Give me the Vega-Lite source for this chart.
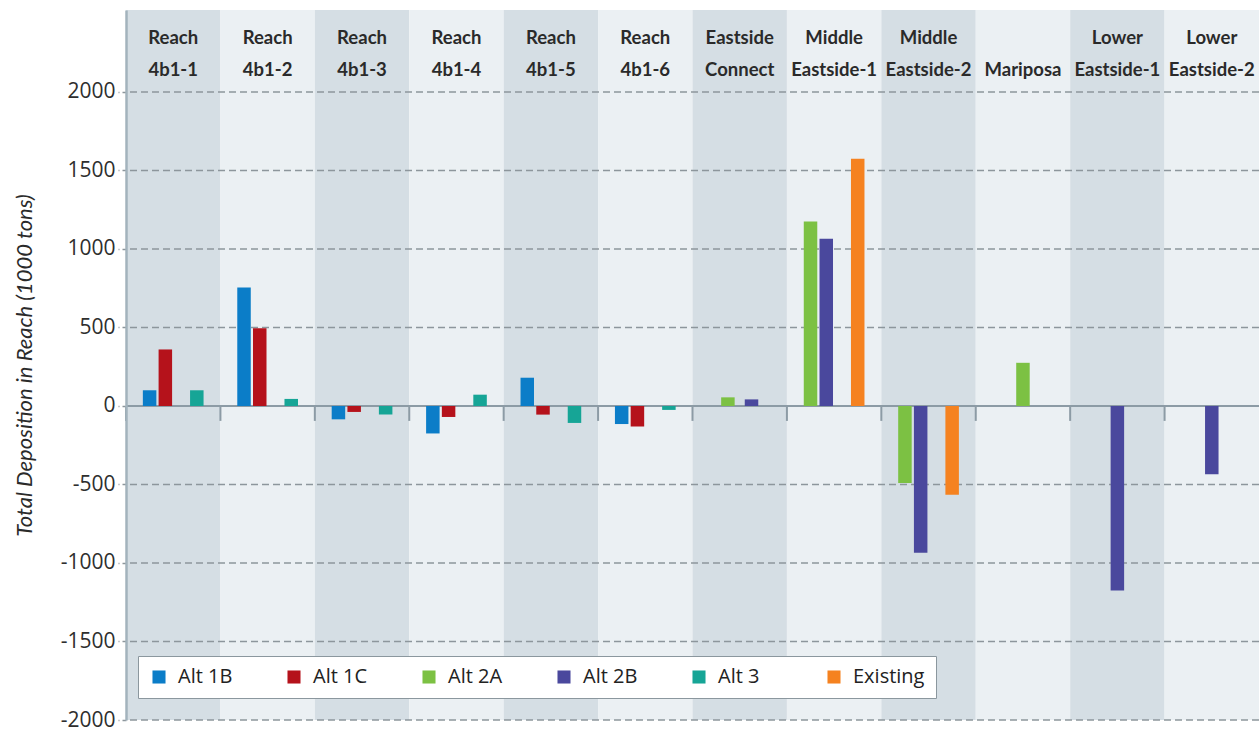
{
  "$schema": "https://vega.github.io/schema/vega-lite/v6.json",
  "width": 1133,
  "height": 710,
  "autosize": "none",
  "padding": {"left": 126, "top": 10, "right": 0, "bottom": 18},
  "background": "white",
  "view": {"stroke": null},
  "config": {
    "axisX": {
      "title": null, "ticks": false, "tickSize": 0, "domain": false, "grid": false,
      "labelPadding": 0, "offset": -18, "labelBaseline": "top", "labelLineHeight": 32,
      "labelFont": "Lato",
      "labelFontWeight": "bold", "labelFontSize": 18.5, "labelColor": "#2a2a2a",
      "labelOverlap": false, "labelBound": false, "labelFlush": false, "labelLimit": 200, "labelAngle": 0, "zindex": 1
    },
    "axisY": {
      "grid": false, "zindex": 1,
      "domainColor": "#a3b3bd", "domainWidth": 2.5,
      "tickSize": 8, "tickDash": [4, 3], "tickColor": "#8d969c", "tickWidth": 1.5,
      "labelPadding": 3, "labelFont": "Open Sans", "labelFontSize": 21, "labelColor": "#2e2e2e",
      "titleFont": "Lato",
      "titleFontStyle": "italic", "titleFontWeight": "normal", "titleFontSize": 22,
      "titleColor": "#2a2a2a", "titlePadding": 24
    }
  },
  "datasets": {
    "bars": [
      {"cat": "Reach 4b1-1", "series": "Alt 1B", "value": 100},
      {"cat": "Reach 4b1-1", "series": "Alt 1C", "value": 360},
      {"cat": "Reach 4b1-1", "series": "Alt 3", "value": 100},
      {"cat": "Reach 4b1-2", "series": "Alt 1B", "value": 755},
      {"cat": "Reach 4b1-2", "series": "Alt 1C", "value": 495},
      {"cat": "Reach 4b1-2", "series": "Alt 3", "value": 45},
      {"cat": "Reach 4b1-3", "series": "Alt 1B", "value": -85},
      {"cat": "Reach 4b1-3", "series": "Alt 1C", "value": -38},
      {"cat": "Reach 4b1-3", "series": "Alt 3", "value": -55},
      {"cat": "Reach 4b1-4", "series": "Alt 1B", "value": -175},
      {"cat": "Reach 4b1-4", "series": "Alt 1C", "value": -70},
      {"cat": "Reach 4b1-4", "series": "Alt 3", "value": 72},
      {"cat": "Reach 4b1-5", "series": "Alt 1B", "value": 180},
      {"cat": "Reach 4b1-5", "series": "Alt 1C", "value": -55},
      {"cat": "Reach 4b1-5", "series": "Alt 3", "value": -108},
      {"cat": "Reach 4b1-6", "series": "Alt 1B", "value": -115},
      {"cat": "Reach 4b1-6", "series": "Alt 1C", "value": -130},
      {"cat": "Reach 4b1-6", "series": "Alt 3", "value": -25},
      {"cat": "Eastside Connect", "series": "Alt 2A", "value": 55},
      {"cat": "Eastside Connect", "series": "Alt 2B", "value": 42},
      {"cat": "Middle Eastside-1", "series": "Alt 2A", "value": 1175},
      {"cat": "Middle Eastside-1", "series": "Alt 2B", "value": 1065},
      {"cat": "Middle Eastside-1", "series": "Existing", "value": 1575},
      {"cat": "Middle Eastside-2", "series": "Alt 2A", "value": -490},
      {"cat": "Middle Eastside-2", "series": "Alt 2B", "value": -935},
      {"cat": "Middle Eastside-2", "series": "Existing", "value": -565},
      {"cat": "Mariposa", "series": "Alt 2A", "value": 275},
      {"cat": "Lower Eastside-1", "series": "Alt 2B", "value": -1175},
      {"cat": "Lower Eastside-2", "series": "Alt 2B", "value": -435}
    ],
    "cats": [
      {"cat": "Reach 4b1-1"}, {"cat": "Reach 4b1-2"}, {"cat": "Reach 4b1-3"},
      {"cat": "Reach 4b1-4"}, {"cat": "Reach 4b1-5"}, {"cat": "Reach 4b1-6"},
      {"cat": "Eastside Connect"}, {"cat": "Middle Eastside-1"}, {"cat": "Middle Eastside-2"},
      {"cat": "Mariposa"}, {"cat": "Lower Eastside-1"}, {"cat": "Lower Eastside-2"}
    ],
    "grid": [
      {"value": -2000}, {"value": -1500}, {"value": -1000}, {"value": -500},
      {"value": 500}, {"value": 1000}, {"value": 1500}, {"value": 2000}
    ]
  },
  "resolve": {"scale": {"xOffset": "independent"}},
  "layer": [
    {
      "data": {"name": "cats"},
      "mark": {"type": "rect"},
      "encoding": {
        "x": {
          "field": "cat", "type": "nominal",
          "scale": {"domain": ["Reach 4b1-1","Reach 4b1-2","Reach 4b1-3","Reach 4b1-4","Reach 4b1-5","Reach 4b1-6","Eastside Connect","Middle Eastside-1","Middle Eastside-2","Mariposa","Lower Eastside-1","Lower Eastside-2"], "paddingInner": 0, "paddingOuter": 0},
          "axis": {"orient": "top", "title": null, "zindex": 1, "labelExpr": "indexof(datum.label, ' ') > 0 ? split(datum.label, ' ') : ['', datum.label]"}
        },
        "fill": {
          "condition": {"test": {"field": "cat", "oneOf": ["Reach 4b1-1","Reach 4b1-3","Reach 4b1-5","Eastside Connect","Middle Eastside-2","Lower Eastside-1"]}, "value": "#d5dee4"},
          "value": "#ebf0f3"
        }
      }
    },
    {
      "data": {"name": "grid"},
      "mark": {"type": "rule", "stroke": "#8d969c", "strokeWidth": 1.5, "strokeDash": [7, 4]},
      "encoding": {
        "y": {
          "field": "value", "type": "quantitative",
          "scale": {"domain": [-2000, 2522], "nice": false, "zero": false},
          "axis": {"values": [-2000, -1500, -1000, -500, 0, 500, 1000, 1500, 2000], "zindex": 1, "labelExpr": "'' + datum.value", "title": "Total Deposition in Reach (1000 tons)"}
        }
      }
    },
    {
      "data": {"values": [{}]},
      "mark": {"type": "rule", "stroke": "#8c9ba5", "strokeWidth": 2},
      "encoding": {
        "y": {"datum": 0, "type": "quantitative", "scale": {"domain": [-2000, 2522], "nice": false, "zero": false},
          "axis": {"values": [-2000, -1500, -1000, -500, 0, 500, 1000, 1500, 2000], "zindex": 1, "labelExpr": "'' + datum.value", "title": "Total Deposition in Reach (1000 tons)"}}
      }
    },
    {
      "data": {"name": "cats"},
      "mark": {"type": "rule", "stroke": "#8c9ba5", "strokeWidth": 2},
      "encoding": {
        "x": {"field": "cat", "type": "nominal", "bandPosition": 0, "scale": {"domain": ["Reach 4b1-1","Reach 4b1-2","Reach 4b1-3","Reach 4b1-4","Reach 4b1-5","Reach 4b1-6","Eastside Connect","Middle Eastside-1","Middle Eastside-2","Mariposa","Lower Eastside-1","Lower Eastside-2"], "paddingInner": 0, "paddingOuter": 0},
          "axis": {"orient": "top", "title": null, "zindex": 1, "labelExpr": "indexof(datum.label, ' ') > 0 ? split(datum.label, ' ') : ['', datum.label]"}},
        "y": {"datum": 0, "type": "quantitative", "scale": {"domain": [-2000, 2522], "nice": false, "zero": false},
          "axis": {"values": [-2000, -1500, -1000, -500, 0, 500, 1000, 1500, 2000], "zindex": 1, "labelExpr": "'' + datum.value", "title": "Total Deposition in Reach (1000 tons)"}},
        "y2": {"datum": -95}
      }
    },
    {
      "data": {"name": "bars"},
      "transform": [{"filter": {"field": "cat", "oneOf": ["Reach 4b1-1","Reach 4b1-2","Reach 4b1-3","Reach 4b1-4","Reach 4b1-5","Reach 4b1-6"]}}],
      "mark": {"type": "bar", "width": 13.5},
      "encoding": {
        "x": {"field": "cat", "type": "nominal", "scale": {"domain": ["Reach 4b1-1","Reach 4b1-2","Reach 4b1-3","Reach 4b1-4","Reach 4b1-5","Reach 4b1-6","Eastside Connect","Middle Eastside-1","Middle Eastside-2","Mariposa","Lower Eastside-1","Lower Eastside-2"], "paddingInner": 0, "paddingOuter": 0},
          "axis": {"orient": "top", "title": null, "zindex": 1, "labelExpr": "indexof(datum.label, ' ') > 0 ? split(datum.label, ' ') : ['', datum.label]"}},
        "xOffset": {"field": "series", "type": "nominal", "scale": {"domain": ["Alt 1B", "Alt 1C", "gap", "Alt 3"], "paddingInner": 0, "paddingOuter": 1.05}},
        "y": {"field": "value", "type": "quantitative", "scale": {"domain": [-2000, 2522], "nice": false, "zero": false},
          "axis": {"values": [-2000, -1500, -1000, -500, 0, 500, 1000, 1500, 2000], "zindex": 1, "labelExpr": "'' + datum.value", "title": "Total Deposition in Reach (1000 tons)"}},
        "color": {
          "field": "series", "type": "nominal",
          "scale": {"domain": ["Alt 1B", "Alt 1C", "Alt 2A", "Alt 2B", "Alt 3", "Existing"], "range": ["#0b7dc8", "#b5121b", "#7cc143", "#4a489d", "#16a596", "#f58220"]},
          "legend": {
            "title": null, "orient": "none", "legendX": 12, "legendY": 646, "direction": "horizontal",
            "symbolType": "square", "symbolSize": 170, "symbolStrokeWidth": 0,
            "labelFont": "Open Sans", "labelFontSize": 20, "labelColor": "#222222", "labelOffset": 9,
            "columnPadding": 34, "gridAlign": "all", "padding": 11,
            "fillColor": "white", "strokeColor": "#8b979e", "labelLimit": 200
          }
        }
      }
    },
    {
      "data": {"name": "bars"},
      "transform": [{"filter": {"field": "cat", "oneOf": ["Middle Eastside-1", "Middle Eastside-2"]}}],
      "mark": {"type": "bar", "width": 13.5},
      "encoding": {
        "x": {"field": "cat", "type": "nominal", "scale": {"domain": ["Reach 4b1-1","Reach 4b1-2","Reach 4b1-3","Reach 4b1-4","Reach 4b1-5","Reach 4b1-6","Eastside Connect","Middle Eastside-1","Middle Eastside-2","Mariposa","Lower Eastside-1","Lower Eastside-2"], "paddingInner": 0, "paddingOuter": 0},
          "axis": {"orient": "top", "title": null, "zindex": 1, "labelExpr": "indexof(datum.label, ' ') > 0 ? split(datum.label, ' ') : ['', datum.label]"}},
        "xOffset": {"field": "series", "type": "nominal", "scale": {"domain": ["Alt 2A", "Alt 2B", "gap", "Existing"], "paddingInner": 0, "paddingOuter": 1.05}},
        "y": {"field": "value", "type": "quantitative", "scale": {"domain": [-2000, 2522], "nice": false, "zero": false},
          "axis": {"values": [-2000, -1500, -1000, -500, 0, 500, 1000, 1500, 2000], "zindex": 1, "labelExpr": "'' + datum.value", "title": "Total Deposition in Reach (1000 tons)"}},
        "color": {"field": "series", "type": "nominal", "scale": {"domain": ["Alt 1B", "Alt 1C", "Alt 2A", "Alt 2B", "Alt 3", "Existing"], "range": ["#0b7dc8", "#b5121b", "#7cc143", "#4a489d", "#16a596", "#f58220"]}}
      }
    },
    {
      "data": {"name": "bars"},
      "transform": [{"filter": {"field": "cat", "oneOf": ["Eastside Connect"]}}],
      "mark": {"type": "bar", "width": 13.5},
      "encoding": {
        "x": {"field": "cat", "type": "nominal", "scale": {"domain": ["Reach 4b1-1","Reach 4b1-2","Reach 4b1-3","Reach 4b1-4","Reach 4b1-5","Reach 4b1-6","Eastside Connect","Middle Eastside-1","Middle Eastside-2","Mariposa","Lower Eastside-1","Lower Eastside-2"], "paddingInner": 0, "paddingOuter": 0},
          "axis": {"orient": "top", "title": null, "zindex": 1, "labelExpr": "indexof(datum.label, ' ') > 0 ? split(datum.label, ' ') : ['', datum.label]"}},
        "xOffset": {"field": "series", "type": "nominal", "scale": {"domain": ["Alt 2A", "Alt 2B"], "paddingInner": 0, "paddingOuter": 1.78}},
        "y": {"field": "value", "type": "quantitative", "scale": {"domain": [-2000, 2522], "nice": false, "zero": false},
          "axis": {"values": [-2000, -1500, -1000, -500, 0, 500, 1000, 1500, 2000], "zindex": 1, "labelExpr": "'' + datum.value", "title": "Total Deposition in Reach (1000 tons)"}},
        "color": {"field": "series", "type": "nominal", "scale": {"domain": ["Alt 1B", "Alt 1C", "Alt 2A", "Alt 2B", "Alt 3", "Existing"], "range": ["#0b7dc8", "#b5121b", "#7cc143", "#4a489d", "#16a596", "#f58220"]}}
      }
    },
    {
      "data": {"name": "bars"},
      "transform": [{"filter": {"field": "cat", "oneOf": ["Mariposa", "Lower Eastside-1", "Lower Eastside-2"]}}],
      "mark": {"type": "bar", "width": 13.5},
      "encoding": {
        "x": {"field": "cat", "type": "nominal", "scale": {"domain": ["Reach 4b1-1","Reach 4b1-2","Reach 4b1-3","Reach 4b1-4","Reach 4b1-5","Reach 4b1-6","Eastside Connect","Middle Eastside-1","Middle Eastside-2","Mariposa","Lower Eastside-1","Lower Eastside-2"], "paddingInner": 0, "paddingOuter": 0},
          "axis": {"orient": "top", "title": null, "zindex": 1, "labelExpr": "indexof(datum.label, ' ') > 0 ? split(datum.label, ' ') : ['', datum.label]"}},
        "y": {"field": "value", "type": "quantitative", "scale": {"domain": [-2000, 2522], "nice": false, "zero": false},
          "axis": {"values": [-2000, -1500, -1000, -500, 0, 500, 1000, 1500, 2000], "zindex": 1, "labelExpr": "'' + datum.value", "title": "Total Deposition in Reach (1000 tons)"}},
        "color": {"field": "series", "type": "nominal", "scale": {"domain": ["Alt 1B", "Alt 1C", "Alt 2A", "Alt 2B", "Alt 3", "Existing"], "range": ["#0b7dc8", "#b5121b", "#7cc143", "#4a489d", "#16a596", "#f58220"]}}
      }
    }
  ]
}
